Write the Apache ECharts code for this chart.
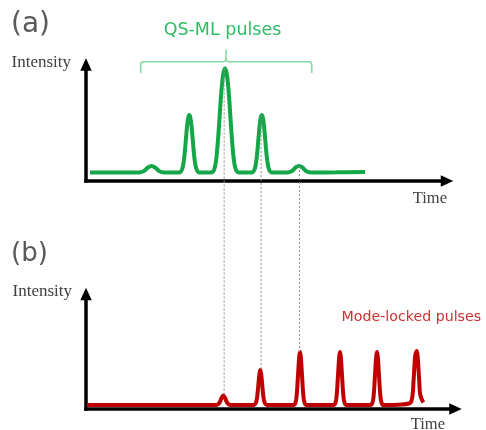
<!DOCTYPE html>
<html><head><meta charset="utf-8">
<script src="https://cdn.jsdelivr.net/npm/echarts/dist/echarts.min.js"></script>
<style>html,body{margin:0;padding:0;background:#fff}#c{width:486px;height:430px}</style>
</head><body><div id="c"></div><script>
// ---- data (time in arbitrary units, intensity in arbitrary units) ----
// (a) Q-switched mode-locked pulse train
const qsmlCurve = [
  [4,8.5],[40,8.5],[53,8.5],[58,10],[62,13.5],[65.5,15],[69,13.5],[73,10],[78,8.5],
  [93.3,8.5],[95.8,11],[97.5,18],[98.8,29],[100,43],[101.3,57],[102.4,64],[103.3,66],[104.2,64],[105.3,57],[106.6,43],[107.8,29],[109.1,18],[110.8,11],[113.3,8.5],
  [125,8.5],[128,11],[130,20],[131.5,35],[133,55],[134.5,78],[136,97],[137.5,108.5],[139,112.5],[140.5,108.5],[142,97],[143.5,78],[145,55],[146.5,35],[148,20],[150,11],[153,8.5],
  [165.8,8.5],[168.3,11],[170,18],[171.3,29],[172.5,43],[173.8,57],[174.9,64],[175.8,66],[176.7,64],[177.8,57],[179.1,43],[180.3,29],[181.6,18],[183.3,11],[185.8,8.5],
  [201,8.5],[206,10],[209.5,13.5],[213,15],[216.5,13.5],[220,10],[225,8.5],
  [250,8.7],[279,9]
];
// (b) continuous-wave mode-locked pulse train
const modeLockedCurve = [
  [1,4],[100,4],[130.5,4],[133.5,6.5],[135.5,11],[137.3,13.5],[139.1,11],[141.1,6.5],[144.1,4],
  [167.8,4],[169.8,6],[171,11],[171.9,19],[172.8,29],[173.6,36],[174.3,39],[175,36],[175.8,29],[176.7,19],[177.6,11],[178.8,6],[180.8,4],
  [207.5,4],[209.5,6.5],[210.7,14],[211.6,27],[212.5,42],[213.3,53],[214,57],[214.7,53],[215.5,42],[216.4,27],[217.3,14],[218.5,6.5],[220.5,4],
  [247.5,4],[249.5,6.5],[250.7,14],[251.6,27],[252.5,42],[253.3,53],[254,57],[254.7,53],[255.5,42],[256.4,27],[257.3,14],[258.5,6.5],[260.5,4],
  [284.5,4],[286.5,6.5],[287.7,14],[288.6,27],[289.5,42],[290.3,53],[291,57],[291.7,53],[292.5,42],[293.4,27],[294.3,14],[295.5,6.5],[297.5,4],
  [316,4.5],[323,5.5],[325,7],[326.6,14],[327.5,27],[328.4,42],[329.2,53],[330.7,58],[331.6,53],[332.4,42],[333.3,27],[334.3,14],[337.3,6.5]
];
// peaks joined by dashed guide lines: [time of peak in (a), time of peak in (b)]
const linkedPeaks = [[139,137.3],[175.8,174.3],[213,214]];
// time span covered by the "QS-ML pulses" brace: [start, end, centre]
const braceSpan = [54.7, 225.7, 140];
const axisRangeA = {x:[0,361], y:[0,116.5]};
const axisRangeB = {x:[0,369.5], y:[0,115]};

const labels = {
  a: '(a)', b: '(b)', qsml: 'QS-ML pulses', ml: 'Mode-locked pulses',
  yName: 'Intensity', xName: 'Time'
};

const GREEN = '#14a747', GREEN_TXT = '#2dbd63', GREEN_LIGHT = '#86d9a2';
const RED = '#c00000', RED_TXT = '#d0302f';

function axisLine(){
  return {show:true, onZero:false, symbol:['none','triangle'], symbolSize:[11.5,12.5],
          lineStyle:{color:'#000', width:3.5, cap:'square'}};
}
function xAx(grid, range, padRight, lh){
  return {type:'value', gridIndex:grid, min:range[0], max:range[1],
    axisLine:axisLine(), axisTick:{show:false}, axisLabel:{show:false}, splitLine:{show:false},
    name:labels.xName, nameLocation:'end', nameGap:0,
    nameTextStyle:{fontFamily:'Liberation Serif', fontSize:16.5, color:'#404040',
      align:'right', verticalAlign:'top', lineHeight:lh, padding:[0,padRight,0,0]}};
}
function yAx(grid, range, gap, padRight){
  return {type:'value', gridIndex:grid, min:range[0], max:range[1],
    axisLine:axisLine(), axisTick:{show:false}, axisLabel:{show:false}, splitLine:{show:false},
    name:labels.yName, nameLocation:'end', nameGap:gap,
    nameTextStyle:{fontFamily:'Liberation Serif', fontSize:17, color:'#404040',
      align:'right', verticalAlign:'middle', padding:[0,padRight,0,0]}};
}

const chart = echarts.init(document.getElementById('c'), null, {renderer:'canvas'});
chart.setOption({
  animation:false,
  backgroundColor:'#fff',
  grid:[{left:86, top:64.5, width:361, height:116.5, containLabel:false, outerBoundsMode:'none'},
        {left:86, top:294, width:369.5, height:115, containLabel:false, outerBoundsMode:'none'}],
  xAxis:[xAx(0, axisRangeA.x, 0, 35), xAx(1, axisRangeB.x, 10.5, 32)],
  yAxis:[yAx(0, axisRangeA.y, 1.5, 15), yAx(1, axisRangeB.y, 2.3, 14)],
  series:[
    {type:'line', xAxisIndex:0, yAxisIndex:0, data:qsmlCurve, showSymbol:false, smooth:0.4,
     lineStyle:{color:GREEN, width:4}, clip:false, z:3},
    {type:'line', xAxisIndex:1, yAxisIndex:1, data:modeLockedCurve, showSymbol:false, smooth:0.4,
     lineStyle:{color:RED, width:4}, clip:false, z:3}
  ]
});

function valueAt(curve, t){
  const p = curve.find(d => d[0] === t);
  return p ? p[1] : 0;
}

const g = [];
// texts
g.push({type:'text', z:50, style:{text:labels.a, x:11, y:24.5, fontFamily:'DejaVu Sans', fontSize:28,
  fill:'#595959', align:'left', verticalAlign:'middle'}});
g.push({type:'text', z:50, style:{text:labels.b, x:11, y:254, fontFamily:'DejaVu Sans', fontSize:26,
  fill:'#595959', align:'left', verticalAlign:'middle'}});
g.push({type:'text', z:50, style:{text:labels.qsml, x:222.5, y:30, fontFamily:'DejaVu Sans', fontSize:17.5,
  fill:GREEN_TXT, align:'center', verticalAlign:'middle'}});
g.push({type:'text', z:50, style:{text:labels.ml, x:341.5, y:317.5, fontFamily:'DejaVu Sans', fontSize:14.2,
  fill:RED_TXT, align:'left', verticalAlign:'middle'}});

// dashed guide lines between corresponding peaks
linkedPeaks.forEach(([ta, tb]) => {
  const pa = chart.convertToPixel({gridIndex:0}, [ta, valueAt(qsmlCurve, ta)]);
  const pb = chart.convertToPixel({gridIndex:1}, [tb, valueAt(modeLockedCurve, tb)]);
  const x = (pa[0] + pb[0]) / 2;
  g.push({type:'line', z:40, shape:{x1:x, y1:pa[1], x2:x, y2:pb[1]},
    style:{stroke:'#8c8c8c', lineWidth:1, lineDash:[2,2]}});
});

// brace over the QS-ML pulses
const x0 = chart.convertToPixel({gridIndex:0}, [braceSpan[0], 0])[0];
const x1 = chart.convertToPixel({gridIndex:0}, [braceSpan[1], 0])[0];
const xc = chart.convertToPixel({gridIndex:0}, [braceSpan[2], 0])[0];
const yH = 61.7, yEnd = 73, yTop = 49.5, r = 2.5, k = 0.75;
g.push({type:'polyline', z:40, shape:{points:[
    [x0,yEnd],[x0,yH+r],[x0+k,yH+k],[x0+r,yH],[xc-r,yH],[xc-k,yH-k],[xc,yH-r],[xc,yTop]]},
  style:{stroke:GREEN_LIGHT, lineWidth:1.6, fill:null}});
g.push({type:'polyline', z:40, shape:{points:[
    [xc,yH-r],[xc+k,yH-k],[xc+r,yH],[x1-r,yH],[x1-k,yH+k],[x1,yH+r],[x1,yEnd]]},
  style:{stroke:GREEN_LIGHT, lineWidth:1.6, fill:null}});

chart.setOption({graphic:g});
</script></body></html>
